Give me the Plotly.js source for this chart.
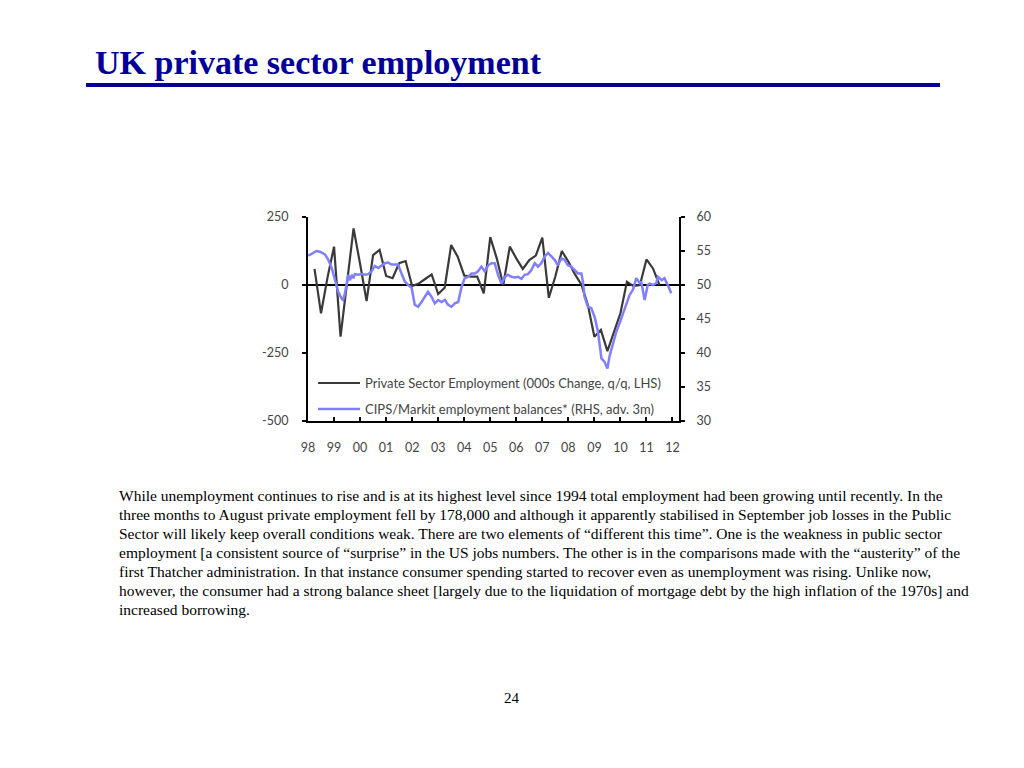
<!DOCTYPE html>
<html>
<head>
<meta charset="utf-8">
<script src="https://cdn.plot.ly/plotly-3.0.1.min.js"></script>
<style>
html,body{margin:0;padding:0;background:#fff;}
#chart{width:1024px;height:768px;}
</style>
</head>
<body>
<div id="chart"></div>
<script>
// Private Sector Employment (000s change, q/q, LHS) - quarterly
const privX = [1998.25,1998.5,1998.75,1999.0,1999.25,1999.5,1999.75,2000.0,2000.25,2000.5,2000.75,2001.0,2001.25,2001.5,2001.75,2002.0,2002.25,2002.5,2002.75,2003.0,2003.25,2003.5,2003.75,2004.0,2004.25,2004.5,2004.75,2005.0,2005.25,2005.5,2005.75,2006.0,2006.25,2006.5,2006.75,2007.0,2007.25,2007.5,2007.75,2008.0,2008.25,2008.5,2008.75,2009.0,2009.25,2009.5,2009.75,2010.0,2010.25,2010.5,2010.75,2011.0,2011.25,2011.5];
const privY = [59,-104,28,141,-190,16,208,78,-59,110,129,33,25,80,88,-4,5,22,39,-33,-10,147,104,35,31,31,-31,176,98,0,141,98,59,92,108,174,-47,31,125,86,40,2,-74,-190,-165,-243,-170,-104,12,-4,0,94,61,0];

// CIPS/Markit employment balances (RHS, adv. 3m) - monthly
const cipsX = [1998.01,1998.20,1998.33,1998.46,1998.59,1998.65,1998.78,1998.91,1999.04,1999.16,1999.29,1999.35,1999.42,1999.48,1999.55,1999.61,1999.68,1999.74,1999.80,1999.93,2000.06,2000.19,2000.31,2000.44,2000.57,2000.70,2000.83,2000.95,2001.08,2001.21,2001.34,2001.46,2001.59,2001.72,2001.85,2001.98,2002.10,2002.23,2002.36,2002.49,2002.61,2002.74,2002.87,2003.00,2003.13,2003.26,2003.38,2003.51,2003.64,2003.77,2003.90,2004.02,2004.15,2004.28,2004.41,2004.53,2004.66,2004.79,2004.92,2005.05,2005.17,2005.30,2005.43,2005.56,2005.68,2005.81,2005.94,2006.07,2006.20,2006.32,2006.45,2006.58,2006.71,2006.83,2006.96,2007.09,2007.22,2007.35,2007.47,2007.60,2007.73,2007.86,2007.98,2008.11,2008.24,2008.37,2008.50,2008.56,2008.62,2008.75,2008.88,2009.01,2009.14,2009.27,2009.39,2009.50,2009.58,2009.71,2009.84,2009.97,2010.10,2010.22,2010.35,2010.48,2010.61,2010.74,2010.80,2010.93,2011.05,2011.12,2011.25,2011.38,2011.44,2011.59,2011.69,2011.82,2011.95];
const cipsY = [54.3,54.75,55.0,54.9,54.7,54.5,53.7,52.5,50.7,49.0,48.0,47.8,48.8,50.3,51.5,50.7,51.5,51.0,51.6,51.5,51.6,51.5,51.6,52.0,52.8,52.5,52.8,53.2,53.3,53.0,53.0,53.0,51.7,50.5,50.0,49.6,47.1,46.8,47.5,48.3,49.0,48.3,47.3,47.8,47.5,47.8,47.1,46.8,47.3,47.5,49.75,51.0,51.2,51.7,51.7,52.0,52.7,52.0,52.9,53.2,53.2,51.5,50.2,51.2,51.5,51.2,51.1,51.2,50.9,51.5,51.6,52.2,53.2,52.7,53.2,54.2,54.7,54.2,53.7,52.9,53.9,53.7,52.9,52.7,52.2,51.7,51.7,50.5,48.3,46.8,46.6,45.3,43.1,39.2,38.7,37.7,39.5,41.4,43.1,44.4,45.8,47.3,48.5,49.3,51.0,50.3,50.5,47.8,50.0,50.2,50.0,50.3,51.2,50.7,51.0,50.0,48.8];

const tickYears = [1998,1999,2000,2001,2002,2003,2004,2005,2006,2007,2008,2009,2010,2011,2012];
const tickLabels = ['98','99','00','01','02','03','04','05','06','07','08','09','10','11','12'];
const lhsTicks = [-500,-250,0,250];
const lhsLabels = ['-500','-250','0','250'];
const rhsTicks = [30,35,40,45,50,55,60];
const legendNames = ['Private Sector Employment (000s Change, q/q, LHS)','CIPS/Markit employment balances* (RHS, adv. 3m)'];

const titleText = 'UK private sector employment';
const paraLines = [
 'While unemployment continues to rise and is at its highest level since 1994 total employment had been growing until recently. In the',
 'three months to August private employment fell by 178,000 and although it apparently stabilised in September job losses in the Public',
 'Sector will likely keep overall conditions weak. There are two elements of \u201cdifferent this time\u201d. One is the weakness in public sector',
 'employment [a consistent source of \u201csurprise\u201d in the US jobs numbers. The other is in the comparisons made with the \u201causterity\u201d of the',
 'first Thatcher administration. In that instance consumer spending started to recover even as unemployment was rising. Unlike now,',
 'however, the consumer had a strong balance sheet [largely due to the liquidation of mortgage debt by the high inflation of the 1970s] and',
 'increased borrowing.'
];
const pageNum = '24';

// plot area in pixels
const L = 308, R = 679, T = 217, B = 421;
const px = x => (x - L) / (R - L);
const py = y => (B - y) / (B - T);

const blackCol = '#3a3a3a';
const blueCol = '#7f7fff';
const tickFont = {family: 'Lato, "Open Sans", sans-serif', size: 12.5, color: '#444'};
const serif = '"Liberation Serif", "Times New Roman", serif';

const traces = [
 {x: cipsX, y: cipsY, yaxis: 'y2', type: 'scatter', mode: 'lines', name: legendNames[1],
  line: {color: blueCol, width: 2.5}},
 {x: privX, y: privY, type: 'scatter', mode: 'lines', name: legendNames[0],
  line: {color: blackCol, width: 2.2}}
];

const annotations = [];
annotations.push({xref:'paper', yref:'paper', x: px(93), y: py(62), xanchor:'left', yanchor:'middle',
  text: '<b>' + titleText + '</b>', showarrow:false,
  font:{family: serif, size: 34, color:'#000099'}});
paraLines.forEach((t, i) => {
  annotations.push({xref:'paper', yref:'paper', x: px(117), y: py(495 + i*19), xanchor:'left', yanchor:'middle',
    text: t, showarrow:false, font:{family: serif, size: 15.5, color:'#000'}});
});
annotations.push({xref:'paper', yref:'paper', x: px(512), y: py(698), xanchor:'center', yanchor:'middle',
  text: pageNum, showarrow:false, font:{family: serif, size: 15, color:'#000'}});
// legend text
[383, 409].forEach((yy, i) => {
  annotations.push({xref:'paper', yref:'paper', x: px(363), y: py(yy), xanchor:'left', yanchor:'middle',
    text: legendNames[i], showarrow:false, font:{family:'Lato, "Open Sans", sans-serif', size: 13, color:'#444'}});
});

const shapes = [
 {type:'line', xref:'paper', yref:'paper', x0: px(86), x1: px(940), y0: py(85), y1: py(85),
  line:{color:'#000099', width:4}},
 {type:'line', xref:'paper', yref:'paper', x0: px(318), x1: px(360), y0: py(383), y1: py(383),
  line:{color: blackCol, width:2.2}},
 {type:'line', xref:'paper', yref:'paper', x0: px(318), x1: px(360), y0: py(409), y1: py(409),
  line:{color: blueCol, width:2.5}}
];

const layout = {
  width: 1024, height: 768, autosize: false,
  margin: {l: L, r: 1024 - R, t: T, b: 768 - B, pad: 0},
  paper_bgcolor: '#fff', plot_bgcolor: '#fff',
  showlegend: false,
  xaxis: {range: [1998, 2012.25], tickvals: tickYears, ticktext: tickLabels,
    showgrid: false, zeroline: false, showline: true, linecolor: '#000', linewidth: 2,
    ticks: 'inside', ticklen: 4, tickwidth: 2, tickcolor: '#000', tickfont: tickFont,
    ticklabelstandoff: 14},
  yaxis: {range: [-500, 250], tickvals: lhsTicks, ticktext: lhsLabels, showgrid: false,
    zeroline: true, zerolinecolor: '#000', zerolinewidth: 1.5,
    showline: true, linecolor: '#000', linewidth: 2,
    ticks: 'outside', ticklen: 4, tickwidth: 2, tickcolor: '#000', tickfont: tickFont,
    ticklabelstandoff: 11},
  yaxis2: {range: [30, 60], tickvals: rhsTicks, overlaying: 'y', side: 'right',
    showgrid: false, zeroline: false, showline: true, linecolor: '#000', linewidth: 2,
    ticks: 'outside', ticklen: 4, tickwidth: 2, tickcolor: '#000', tickfont: tickFont,
    ticklabelstandoff: 9},
  annotations: annotations,
  shapes: shapes
};

Plotly.newPlot('chart', traces, layout, {staticPlot: true, displayModeBar: false});
</script>
</body>
</html>
